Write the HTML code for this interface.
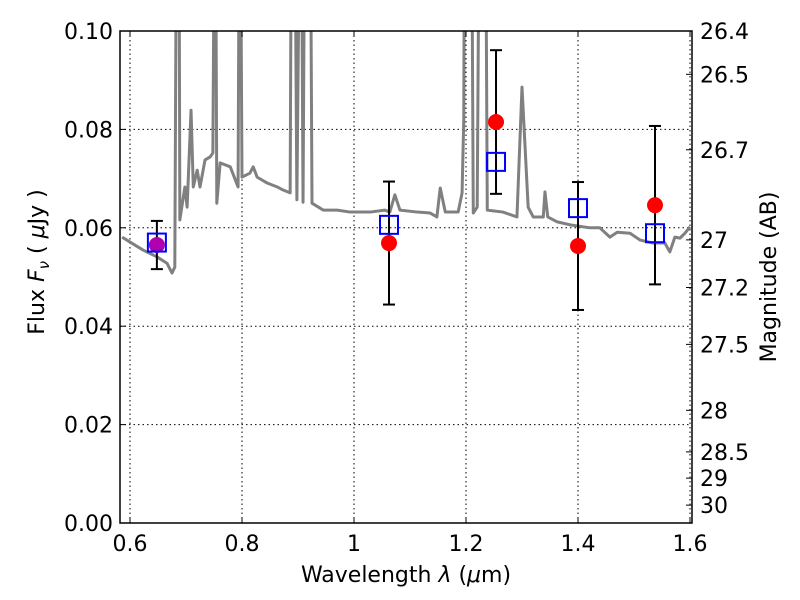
<!DOCTYPE html>
<html><head><meta charset="utf-8"><style>
html,body{margin:0;padding:0;background:#fff;overflow:hidden;width:800px;height:600px}
svg{display:block}
svg text{font-family:"DejaVu Sans","Liberation Sans",sans-serif;fill:#000}
</style></head><body>
<svg id="chart" width="800" height="600" xmlns="http://www.w3.org/2000/svg">
<text x="406" y="582" text-anchor="middle" font-size="22">Wavelength  <tspan font-style="italic">λ</tspan> (<tspan font-style="italic">μ</tspan>m)</text>
<text transform="translate(44,262) rotate(-90)" text-anchor="middle" font-size="22">Flux  <tspan font-style="italic">F</tspan><tspan font-style="italic" font-size="15" dy="5">ν</tspan><tspan dy="-5">  ( </tspan><tspan font-style="italic">μ</tspan>Jy )</text>
<text transform="translate(776,277) rotate(-90)" text-anchor="middle" font-size="22">Magnitude (AB)</text>
</svg>
<script>
const specLam=[0.586,0.600,0.623,0.648,0.666,0.675,0.680,0.684,0.687,0.689,0.698,0.702,0.709,0.713,0.720,0.725,0.734,0.743,0.748,0.752,0.755,0.761,0.779,0.793,0.796,0.800,0.814,0.820,0.827,0.845,0.863,0.873,0.886,0.889,0.893,0.898,0.905,0.909,0.913,0.921,0.925,0.945,0.970,0.993,1.029,1.055,1.064,1.073,1.082,1.113,1.136,1.148,1.154,1.163,1.186,1.193,1.196,1.198,1.209,1.213,1.220,1.225,1.234,1.238,1.266,1.291,1.300,1.311,1.320,1.338,1.341,1.346,1.363,1.386,1.421,1.439,1.457,1.470,1.493,1.511,1.534,1.555,1.564,1.573,1.582,1.591,1.600];
const specFlux=[0.0581,0.0571,0.0555,0.0541,0.0528,0.0508,0.0520,0.15,0.15,0.0616,0.0683,0.0642,0.0839,0.0683,0.0717,0.0683,0.0738,0.0744,0.0752,0.15,0.0650,0.0732,0.0724,0.0683,0.15,0.0703,0.0711,0.0724,0.0703,0.0691,0.0683,0.0677,0.0671,0.15,0.15,0.0657,0.15,0.0652,0.15,0.15,0.0650,0.0636,0.0636,0.0632,0.0632,0.0636,0.0632,0.0667,0.0636,0.0632,0.0630,0.0622,0.0681,0.0632,0.0632,0.0671,0.0819,0.15,0.15,0.0630,0.0642,0.15,0.15,0.0636,0.0632,0.0622,0.0886,0.0642,0.0622,0.0622,0.0673,0.0622,0.0612,0.0606,0.0600,0.0600,0.0581,0.0591,0.0589,0.0575,0.0569,0.0569,0.0551,0.0581,0.0579,0.0589,0.0602];
const obsLam=[0.648,1.0625,1.2536,1.400,1.5375];
const obsFlux=[0.0565,0.0569,0.0815,0.0563,0.0646];
const obsErr=[0.0049,0.0125,0.0146,0.0130,0.0161];
const modelFlux=[0.0570,0.0606,0.0734,0.0640,0.0589];
const xTicks=[0.6,0.8,1.0,1.2,1.4,1.6];
const xTickLabels=["0.6","0.8","1","1.2","1.4","1.6"];
const yTicks=[0,0.02,0.04,0.06,0.08,0.10];
const yTickLabels=["0.00","0.02","0.04","0.06","0.08","0.10"];
const magTicks=[26.4,26.5,26.7,27,27.2,27.5,28,28.5,29,30];
const magLabels=["26.4","26.5","26.7","27","27.2","27.5","28","28.5","29","30"];

const L=120,R=692,T=31,B=523;
const X=l=>130+(l-0.6)*560;
const Y=f=>B-f*4920;
const magY=m=>Y(Math.pow(10,(23.9-m)/2.5));
const svg=document.getElementById('chart');
const NS='http://www.w3.org/2000/svg';
function mk(tag,attrs,parent){const e=document.createElementNS(NS,tag);for(const k in attrs)e.setAttribute(k,attrs[k]);(parent||svg).appendChild(e);return e;}

const defs=mk('defs',{});const cp=mk('clipPath',{id:'clip'},defs);mk('rect',{x:L,y:T,width:R-L,height:B-T},cp);

const grid=mk('g',{});


xTicks.forEach(t=>mk('line',{x1:X(t),x2:X(t),y1:T,y2:B,stroke:'#000','stroke-width':1,'stroke-dasharray':'1.5,3'},grid));
yTicks.forEach(t=>mk('line',{x1:L,x2:R,y1:Y(t),y2:Y(t),stroke:'#000','stroke-width':1,'stroke-dasharray':'1.5,3'},grid));

const sp=mk('polyline',{points:specLam.map((l,i)=>X(l)+','+Y(specFlux[i])).join(' '),fill:'none',stroke:'#808080','stroke-width':3,'clip-path':'url(#clip)','stroke-linejoin':'round'});



obsLam.forEach((l,i)=>{
  const g=mk('g',{});
  
  
  const x=X(l),y1=Y(obsFlux[i]+obsErr[i]),y2=Y(obsFlux[i]-obsErr[i]);
  mk('line',{x1:x,x2:x,y1:y1,y2:y2,stroke:'#000','stroke-width':2},g);
  mk('line',{x1:x-6,x2:x+6,y1:y1,y2:y1,stroke:'#000','stroke-width':2},g);
  mk('line',{x1:x-6,x2:x+6,y1:y2,y2:y2,stroke:'#000','stroke-width':2},g);
  mk('circle',{cx:x,cy:Y(obsFlux[i]),r:8,fill:i===0?'#b000b0':'#ff0000'},g);
});
modelFlux.forEach((f,i)=>{
  const r=mk('rect',{x:X(obsLam[i])-9,y:Y(f)-9,width:18,height:18,fill:'none',stroke:'#0000ff','stroke-width':2});
  
  
});

mk('rect',{x:L,y:T,width:R-L,height:B-T,fill:'none',stroke:'#000','stroke-width':1.5});

xTicks.forEach((t,i)=>{
  mk('line',{x1:X(t),x2:X(t),y1:B,y2:B-6,stroke:'#000'});mk('line',{x1:X(t),x2:X(t),y1:T,y2:T+6,stroke:'#000'});
  const tx=mk('text',{x:X(t),y:B+28,'text-anchor':'middle','font-size':22});tx.textContent=xTickLabels[i];
  
  
});
yTicks.forEach((t,i)=>{
  mk('line',{x1:L,x2:L+6,y1:Y(t),y2:Y(t),stroke:'#000'});
  const tx=mk('text',{x:L-7,y:Y(t)+8,'text-anchor':'end','font-size':22});tx.textContent=yTickLabels[i];
  
  
});
magTicks.forEach((m,i)=>{
  const y=magY(m);
  mk('line',{x1:R,x2:R-6,y1:y,y2:y,stroke:'#000'});
  const tx=mk('text',{x:R+8,y:y+8,'font-size':22});tx.textContent=magLabels[i];
  
  
});
</script>
</body></html>
